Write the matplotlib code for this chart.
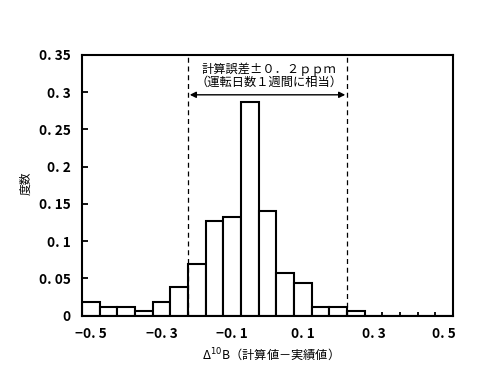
import matplotlib
matplotlib.use("Agg")
from matplotlib import pyplot as plt

plt.rcParams['font.family'] = ['Noto Sans CJK JP', 'DejaVu Sans']

# 階級の中心（幅0.05）と度数
bin_centers = [-0.50, -0.45, -0.40, -0.35, -0.30, -0.25, -0.20, -0.15, -0.10, -0.05,
               0.00, 0.05, 0.10, 0.15, 0.20, 0.25, 0.30, 0.35, 0.40, 0.45, 0.50]
freq = [0.018, 0.012, 0.012, 0.006, 0.018, 0.038, 0.069, 0.127, 0.133, 0.287,
        0.140, 0.057, 0.044, 0.012, 0.012, 0.006, 0.0, 0.0, 0.0, 0.0, 0.0]
bin_width = 0.05

x_ticks = [-0.5, -0.3, -0.1, 0.1, 0.3, 0.5]
x_ticklabels = ['−0. 5', '−0. 3', '−0. 1', '0. 1', '0. 3', '0. 5']
y_ticks = [0, 0.05, 0.1, 0.15, 0.2, 0.25, 0.3, 0.35]
y_ticklabels = ['0', '0. 05', '0. 1', '0. 15', '0. 2', '0. 25', '0. 3', '0. 35']

err_limit = 0.225    # 破線の位置
arrow_y = 0.2965
arrow_span = 0.22

fig = plt.figure(figsize=(4.87, 3.8), dpi=100)
ax = fig.add_axes([0.1684, 0.1697, 0.7618, 0.6856])

ax.bar(bin_centers, freq, width=bin_width, color='white', edgecolor='black',
       linewidth=1.5, zorder=2)

ax.set_xlim(-0.525, 0.525)
ax.set_ylim(0, 0.35)

# ±0.2ppm の範囲
for xv in (-err_limit, err_limit):
    ax.axvline(xv, color='black', linestyle=(0, (4, 3)), linewidth=0.9, zorder=3)
ax.annotate('', xy=(-arrow_span, arrow_y), xytext=(arrow_span, arrow_y),
            arrowprops=dict(arrowstyle='<|-|>', color='black', lw=1.0,
                            mutation_scale=9, shrinkA=0, shrinkB=0))
ax.text(0.005, 0.3225, '計算誤差±０．２ｐｐｍ\n（運転日数１週間に相当）',
        ha='center', va='center', multialignment='center',
        fontsize=8.8, linespacing=0.95)

ax.set_xticks(x_ticks)
ax.set_xticklabels(x_ticklabels, fontweight='bold', fontsize=9.8)
ax.set_yticks(y_ticks)
ax.set_yticklabels(y_ticklabels, fontweight='bold', fontsize=9.8)
ax.set_xticks([0.325, 0.375, 0.425, 0.475], minor=True)
ax.tick_params(axis='x', which='major', length=0, pad=8)
ax.tick_params(axis='x', which='minor', direction='in', length=3, width=1.3)
ax.tick_params(axis='y', direction='in', length=4, width=1.3, pad=8)

for sp in ax.spines.values():
    sp.set_linewidth(1.5)

ax.set_xlabel('Δ$^{10}$B（計算値－実績値）', fontsize=8.8, labelpad=4)
fig.text(26 / 487, 1 - 183 / 380, '度数', rotation=90, ha='center', va='center',
         fontsize=8.5)

fig.savefig('out.png', dpi=100)
